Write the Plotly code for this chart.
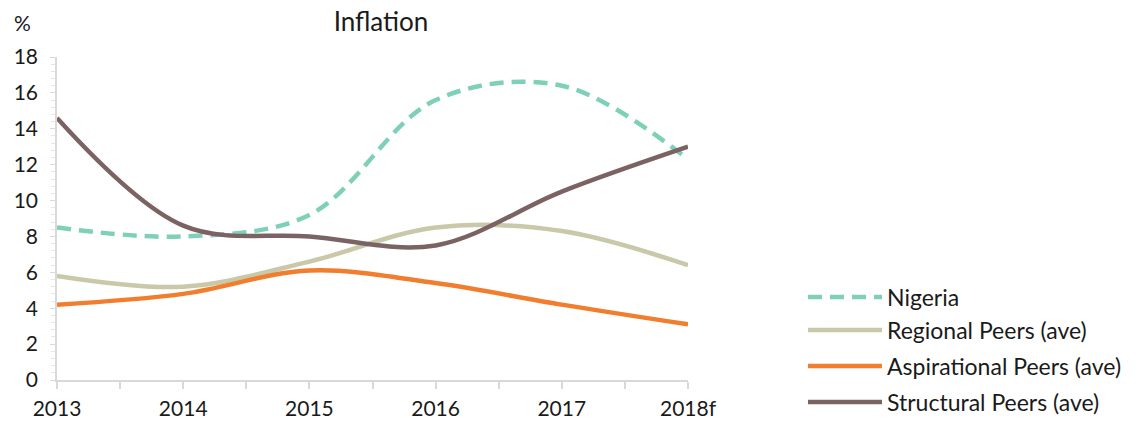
import plotly.graph_objects as go

years = [2013, 2014, 2015, 2016, 2017, 2018]
year_labels = ["2013", "2014", "2015", "2016", "2017", "2018f"]

nigeria = [8.5, 8.0, 9.2, 15.6, 16.4, 12.3]
regional = [5.8, 5.2, 6.6, 8.5, 8.3, 6.4]
aspirational = [4.2, 4.8, 6.1, 5.4, 4.2, 3.1]
structural = [14.6, 8.6, 8.0, 7.5, 10.5, 13.0]

series_names = ["Nigeria", "Regional Peers (ave)", "Aspirational Peers (ave)", "Structural Peers (ave)"]
series_values = [nigeria, regional, aspirational, structural]
series_colors = ["#7fd0b8", "#c9c8a9", "#f07e2e", "#7b6363"]
series_dash = ["14px,8px", "solid", "solid", "solid"]

FONT = "Lato, 'Open Sans', sans-serif"
TXT = "#1a1a1a"

W, H = 1138, 422
ML, MR, MT, MB = 57, 450, 57, 42
PW, PH = W - ML - MR, H - MT - MB


def px_to_paper_x(px):
    return (px - ML) / PW


def px_to_paper_y(py):
    return (H - MB - py) / PH


fig = go.Figure()
for name, vals, col, dash in zip(series_names, series_values, series_colors, series_dash):
    fig.add_trace(go.Scatter(
        x=years, y=vals, name=name, mode="lines", showlegend=False,
        line=dict(color=col, width=4.5, dash=dash, shape="spline", smoothing=1.0),
    ))

# custom legend (long line samples like the original)
legend_rows_y = [297, 330, 366, 402]
shapes = []
annotations = []
for name, col, dash, ry in zip(series_names, series_colors, series_dash, legend_rows_y):
    shapes.append(dict(
        type="line", xref="paper", yref="paper",
        x0=px_to_paper_x(808), x1=px_to_paper_x(882),
        y0=px_to_paper_y(ry), y1=px_to_paper_y(ry),
        line=dict(color=col, width=4.5, dash=dash),
    ))
    annotations.append(dict(
        text=name, xref="paper", yref="paper",
        x=px_to_paper_x(885), y=px_to_paper_y(ry),
        xanchor="left", yanchor="middle", showarrow=False,
        font=dict(size=23, family=FONT, color=TXT),
    ))

annotations.append(dict(
    text="%", xref="paper", yref="paper",
    x=px_to_paper_x(22), y=px_to_paper_y(22),
    xanchor="center", yanchor="middle", showarrow=False,
    font=dict(size=21, family=FONT, color=TXT),
))

fig.update_layout(
    width=W, height=H,
    margin=dict(l=ML, r=MR, t=MT, b=MB),
    paper_bgcolor="white", plot_bgcolor="white",
    font=dict(family=FONT, size=21, color=TXT),
    title=dict(text="Inflation", x=381 / W, xanchor="center", y=1 - 22 / H,
               yanchor="middle", font=dict(size=26, family=FONT, color=TXT)),
    showlegend=False,
    xaxis=dict(
        range=[2013, 2018], tickvals=years, ticktext=year_labels, automargin=False,
        showgrid=False, zeroline=False, showline=True, linecolor="#d9d9d9", linewidth=1.5,
        ticks="outside", ticklen=7, tickcolor="#d9d9d9", tickwidth=1.5,
        minor=dict(dtick=0.5, ticks="outside", ticklen=7, tickcolor="#d9d9d9", showgrid=False),
        tickfont=dict(size=21, family=FONT, color=TXT), ticklabelstandoff=2,
    ),
    yaxis=dict(
        range=[0, 18], dtick=2, tick0=0, automargin=False,
        showgrid=False, zeroline=False, showline=True, linecolor="#d9d9d9", linewidth=1.5,
        ticks="outside", ticklen=5, tickcolor="#d9d9d9",
        minor=dict(dtick=0.4, ticks="outside", ticklen=4, tickcolor="#e6e6e6", showgrid=False),
        tickfont=dict(size=21, family=FONT, color=TXT), ticklabelstandoff=8,
    ),
    shapes=shapes,
    annotations=annotations,
)

fig.write_html("out.html")
